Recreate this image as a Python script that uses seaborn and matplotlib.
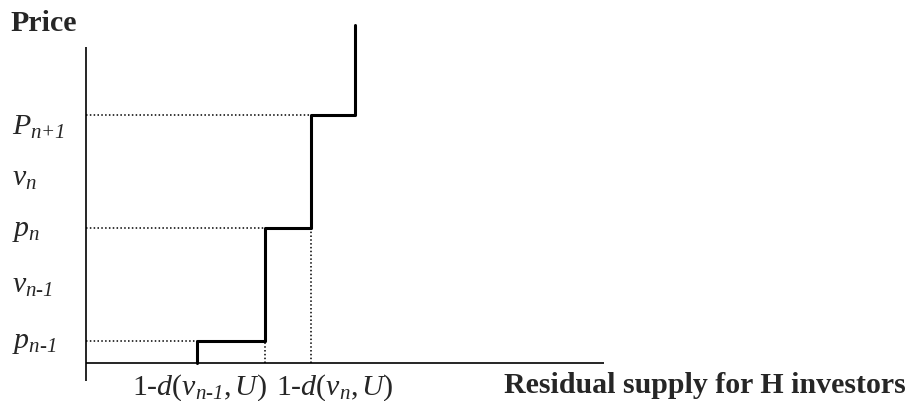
import numpy as np
import pandas as pd
import matplotlib
matplotlib.use("Agg")
import matplotlib.pyplot as plt
import seaborn as sns

# ---- data (abstract units) ----
supply_steps = [0.98, 1.58, 1.99, 2.38]      # quantities where the supply curve jumps
price_levels = [0.195, 1.195, 2.195]         # p_{n-1}, p_n, P_{n+1}
price_top = 2.99                             # top of the last vertical segment
y_tick_labels = [r'$p_{n\text{-}1}$', r'$v_{n\text{-}1}$', r'$p_n$',
                 r'$v_n$', r'$P_{n\text{+}1}$']
x_tick_labels = [r'1-$d$($v_{n\text{-}1}$,$\,U$)', r'1-$d$($v_n$,$\,U$)']
y_title = "Price"
x_title = "Residual supply for H investors"

sns.set_theme(style="white")
plt.rcParams['font.family'] = ['Liberation Serif', 'DejaVu Serif']
plt.rcParams['mathtext.fontset'] = 'custom'
plt.rcParams['mathtext.rm'] = 'Liberation Serif:italic'
plt.rcParams['mathtext.it'] = 'Liberation Serif:italic'
plt.rcParams['mathtext.bf'] = 'Liberation Serif:bold'

# build step curve
xs, ys = [supply_steps[0]], [0.0]
for i, p in enumerate(price_levels):
    xs += [supply_steps[i], supply_steps[i + 1]]
    ys += [p, p]
xs.append(supply_steps[-1]); ys.append(price_top)
curve = pd.DataFrame({"q": xs, "p": ys})

U = 113.0  # pixels per unit
def px_x(px):
    return (px - 86) / U
def px_y(py):
    return (364 - py) / U

fig = plt.figure(figsize=(9.14, 4.02), dpi=100)
ax = fig.add_axes([0, 0, 1, 1])

# axes
ax.plot([0, 0], [px_y(382), px_y(48)], color="black", lw=1.2, solid_capstyle="butt")
ax.plot([0, px_x(604)], [0, 0], color="black", lw=1.2, solid_capstyle="butt")

# dotted guides
dot = (0, (1.0, 1.5))
for i, p in enumerate(price_levels):
    ax.plot([0, supply_steps[i]], [p, p], color="black", lw=1.1, linestyle=dot)
ax.plot([supply_steps[1]] * 2, [0, price_levels[0]], color="black", lw=1.1, linestyle=dot)
ax.plot([supply_steps[2]] * 2, [0, price_levels[1]], color="black", lw=1.1, linestyle=dot)

# supply curve
sns.lineplot(data=curve, x="q", y="p", sort=False, color="black", lw=2.2, ax=ax,
             estimator=None)
ax.set_xlim(px_x(0), px_x(914))
ax.set_ylim(px_y(402), px_y(0))
ax.axis("off")

fs = 21.5
# y labels
label_baselines = [348, 293, 236, 186, 135]
for lab, b in zip(y_tick_labels, label_baselines):
    ax.text(px_x(12), px_y(b), lab, ha="left", va="baseline", fontsize=fs)
# x labels
for lab, left in zip(x_tick_labels, [132, 276]):
    ax.text(px_x(left), px_y(395), lab, ha="left", va="baseline", fontsize=fs)

ax.text(px_x(10), px_y(31), y_title, ha="left", va="baseline", fontsize=fs, fontweight="bold")
ax.text(px_x(906), px_y(393), x_title, ha="right", va="baseline", fontsize=fs, fontweight="bold")

fig.savefig("out.png", dpi=100)
